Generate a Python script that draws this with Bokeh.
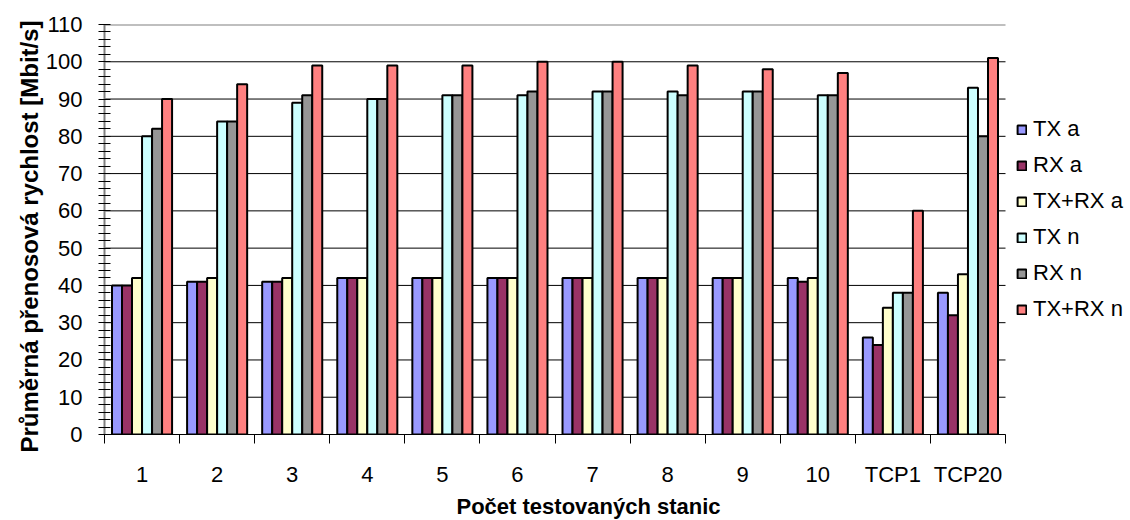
import numpy as np
from bokeh.plotting import figure
from bokeh.models import (ColumnDataSource, FixedTicker, Legend, LegendItem, Title)
from bokeh.embed import file_html
from bokeh.resources import INLINE

# Throughput per test configuration [Mbit/s]
categories = ["1", "2", "3", "4", "5", "6", "7", "8", "9", "10", "TCP1", "TCP20"]
tx_a = [40, 41, 41, 42, 42, 42, 42, 42, 42, 42, 26, 38]
rx_a = [40, 41, 41, 42, 42, 42, 42, 42, 42, 41, 24, 32]
txrx_a = [42, 42, 42, 42, 42, 42, 42, 42, 42, 42, 34, 43]
tx_n = [80, 84, 89, 90, 91, 91, 92, 92, 92, 91, 38, 93]
rx_n = [82, 84, 91, 90, 91, 92, 92, 91, 92, 91, 38, 80]
txrx_n = [90, 94, 99, 99, 99, 100, 100, 99, 98, 97, 60, 101]

series_names = ["TX a", "RX a", "TX+RX a", "TX n", "RX n", "TX+RX n"]
series_values = [tx_a, rx_a, txrx_a, tx_n, rx_n, txrx_n]
series_colors = ["#9999FF", "#993366", "#FFFFCC", "#CCFFFF", "#969696", "#FF8080"]
y_ticks = list(range(0, 111, 10))

FONT = "Liberation Sans"

# page geometry (pixels)
W, H = 1130, 520
LEFT, TOP, BOTTOM = 104, 24, 77
PLOT_RIGHT = 1005          # right end of the bar area; the legend sits beyond it

n_cat = len(categories)
centers = np.arange(n_cat) + 0.5
group_width = 0.8
bar_w = group_width / len(series_names)

# the frame spans the full width; the x range is stretched so that the
# categories end at PLOT_RIGHT and the legend can live inside the frame
x_end = n_cat * (W - LEFT) / (PLOT_RIGHT - LEFT)

p = figure(width=W, height=H, x_range=(0, x_end), y_range=(0, 110),
           output_backend="svg", toolbar_location=None,
           min_border_left=LEFT, min_border_right=0,
           min_border_top=TOP, min_border_bottom=BOTTOM)
p.outline_line_color = None
p.background_fill_color = "white"
p.border_fill_color = "white"
p.xgrid.grid_line_color = None
p.ygrid.grid_line_color = None

# horizontal gridlines over the category span only
grid_y = y_ticks[:-1]
p.segment(x0=[0] * len(grid_y), x1=[n_cat] * len(grid_y), y0=grid_y, y1=grid_y,
          line_color="black", line_width=1)
p.segment(x0=[0], x1=[n_cat], y0=[y_ticks[-1]], y1=[y_ticks[-1]],
          line_color="#808080", line_width=2)

items = []
for i, (name, vals, col) in enumerate(zip(series_names, series_values, series_colors)):
    offset = (i - (len(series_names) - 1) / 2) * bar_w
    src = ColumnDataSource(dict(x=centers + offset, top=vals))
    r = p.vbar(x="x", top="top", width=bar_w, bottom=0, source=src,
               fill_color=col, line_color="black", line_width=2)
    items.append(LegendItem(label=name, renderers=[r]))

# y axis: the tick marks come from the minor ticker (every 2, crossing the
# axis line); the invisible major ticks only set the distance of the labels
yax = p.yaxis[0]
yax.ticker = FixedTicker(ticks=y_ticks, minor_ticks=list(range(0, 111, 2)))
yax.axis_line_color = "#808080"
yax.axis_line_width = 2
yax.major_tick_line_color = None
yax.major_tick_out = 22
yax.major_tick_in = 0
yax.minor_tick_line_color = "black"
yax.minor_tick_out = 6
yax.minor_tick_in = 6
yax.major_label_standoff = 0
yax.major_label_text_font = FONT
yax.major_label_text_font_size = "22px"
yax.major_label_text_color = "black"

p.add_layout(Title(text="Průměrná přenosová rychlost [Mbit/s]", align="left", offset=-18,
                   text_font=FONT, text_font_size="24px", text_font_style="bold",
                   text_color="black", standoff=0), "left")

# x axis: labels at group centres, ticks at group boundaries
xax = p.xaxis[0]
xax.bounds = (0, n_cat)
xax.ticker = FixedTicker(ticks=list(centers), minor_ticks=list(range(0, n_cat + 1)))
xax.major_label_overrides = {float(c): lab for c, lab in zip(centers, categories)}
xax.axis_line_color = "black"
xax.axis_line_width = 1
xax.major_tick_out = 0
xax.major_tick_in = 0
xax.minor_tick_line_color = "black"
xax.minor_tick_out = 9
xax.minor_tick_in = 0
xax.major_label_standoff = 18
xax.major_label_text_font = FONT
xax.major_label_text_font_size = "22px"
xax.major_label_text_color = "black"

p.add_layout(Title(text="Počet testovaných stanic", align="left", offset=352,
                   text_font=FONT, text_font_size="22px", text_font_style="bold",
                   text_color="black", standoff=4), "below")

legend = Legend(items=items, location=(PLOT_RIGHT - LEFT + 11, 112), orientation="vertical",
                glyph_width=11, glyph_height=11, label_standoff=6,
                label_height=26, spacing=10, padding=0, margin=0,
                label_text_font=FONT, label_text_font_size="22px",
                label_text_color="black",
                border_line_color=None, background_fill_alpha=0)
p.add_layout(legend, "center")

open("out.html", "w").write(file_html(p, INLINE))
